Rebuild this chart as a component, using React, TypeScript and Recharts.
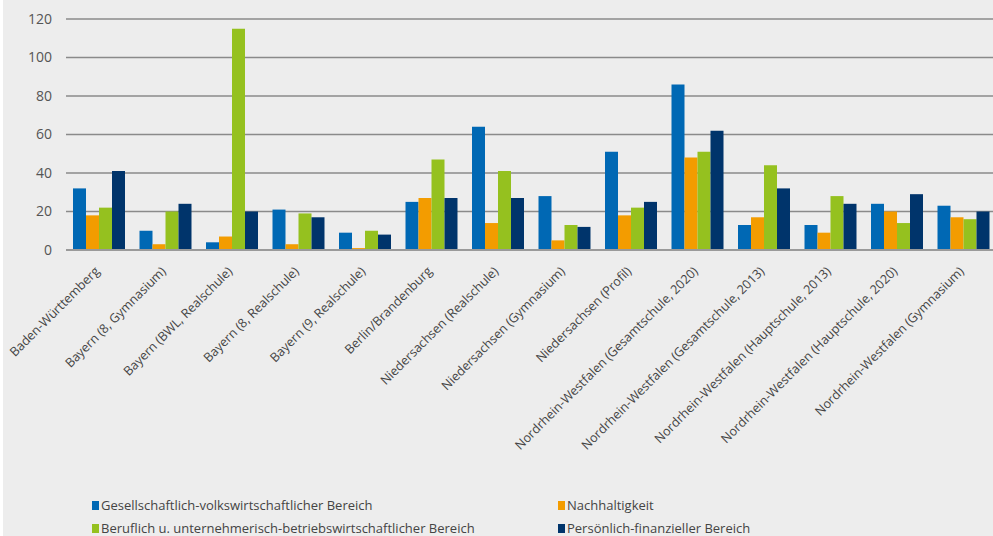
import { BarChart, Bar, XAxis, YAxis, CartesianGrid } from 'recharts'

const categories = [
  'Baden-Württemberg',
  'Bayern (8, Gymnasium)',
  'Bayern (BWL, Realschule)',
  'Bayern (8, Realschule)',
  'Bayern (9, Realschule)',
  'Berlin/Brandenburg',
  'Niedersachsen (Realschule)',
  'Niedersachsen (Gymnasium)',
  'Niedersachsen (Profil)',
  'Nordrhein-Westfalen (Gesamtschule, 2020)',
  'Nordrhein-Westfalen (Gesamtschule, 2013)',
  'Nordrhein-Westfalen (Hauptschule, 2013)',
  'Nordrhein-Westfalen (Hauptschule, 2020)',
  'Nordrhein-Westfalen (Gymnasium)',
]

const gesellschaftlich = [32, 10, 4, 21, 9, 25, 64, 28, 51, 86, 13, 13, 24, 23]
const nachhaltigkeit = [18, 3, 7, 3, 1, 27, 14, 5, 18, 48, 17, 9, 20, 17]
const beruflich = [22, 20, 115, 19, 10, 47, 41, 13, 22, 51, 44, 28, 14, 16]
const persoenlich = [41, 24, 20, 17, 8, 27, 27, 12, 25, 62, 32, 24, 29, 20]

const yTicks = [0, 20, 40, 60, 80, 100, 120]

const series = [
  { key: 'g', name: 'Gesellschaftlich-volkswirtschaftlicher Bereich', color: '#0068b4' },
  { key: 'n', name: 'Nachhaltigkeit', color: '#f39c00' },
  { key: 'b', name: 'Beruflich u. unternehmerisch-betriebswirtschaftlicher Bereich', color: '#95c11f' },
  { key: 'p', name: 'Persönlich-finanzieller Bereich', color: '#00346b' },
]

const data = categories.map((name, i) => ({
  name,
  g: gesellschaftlich[i],
  n: nachhaltigkeit[i],
  b: beruflich[i],
  p: persoenlich[i],
}))

const FONT = '"Open Sans", "Noto Sans", sans-serif'

function CategoryTick(props: any) {
  const { x, y, payload } = props
  const ax = x + 1
  const ay = y + 14
  return (
    <text
      x={ax}
      y={ay}
      transform={`rotate(-45, ${ax}, ${ay})`}
      textAnchor="end"
      fill="#444"
      fontSize={12.6}
      fontFamily={FONT}
    >
      {payload.value}
    </text>
  )
}

function LegendBox() {
  const pos = [
    { left: 92, top: 496 },
    { left: 558, top: 496 },
    { left: 92, top: 519 },
    { left: 558, top: 519 },
  ]
  return (
    <>
      {series.map((s, i) => (
        <div
          key={s.key}
          style={{
            position: 'absolute', left: pos[i].left, top: pos[i].top,
            display: 'flex', alignItems: 'center', whiteSpace: 'nowrap',
            fontFamily: FONT, fontSize: 13, color: '#444',
          }}
        >
          <span style={{ width: 7, height: 9, background: s.color, marginRight: 2, display: 'inline-block' }} />
          {s.name}
        </div>
      ))}
    </>
  )
}

export default function App() {
  return (
    <div style={{ position: 'fixed', left: 0, top: 0, width: 993, height: 536, background: '#fff', overflow: 'hidden' }}>
      <div style={{ position: 'absolute', left: 3, top: 0, width: 990, height: 536, background: '#ededed' }} />
      <div style={{ position: 'absolute', left: 0, top: 0 }}>
        <BarChart
          width={997}
          height={536}
          data={data}
          margin={{ top: 19, right: 0, left: 0, bottom: 0 }}
          barCategoryGap={7}
          barGap={0}
        >
          <CartesianGrid vertical={false} stroke="#8a8a8a" strokeWidth={1.3} />
          <XAxis
            dataKey="name"
            interval={0}
            height={286}
            tick={<CategoryTick />}
            tickLine={false}
            axisLine={{ stroke: '#9a9a9a', strokeWidth: 2 }}
          />
          <YAxis
            width={66}
            domain={[0, 120]}
            ticks={yTicks}
            tickLine={false}
            axisLine={false}
            tickSize={0}
            tickMargin={14}
            tick={{ fill: '#555', fontSize: 14, fontFamily: FONT }}
          />
          {series.map(s => (
            <Bar key={s.key} dataKey={s.key} name={s.name} fill={s.color} isAnimationActive={false} />
          ))}
        </BarChart>
      </div>
      <LegendBox />
    </div>
  )
}
